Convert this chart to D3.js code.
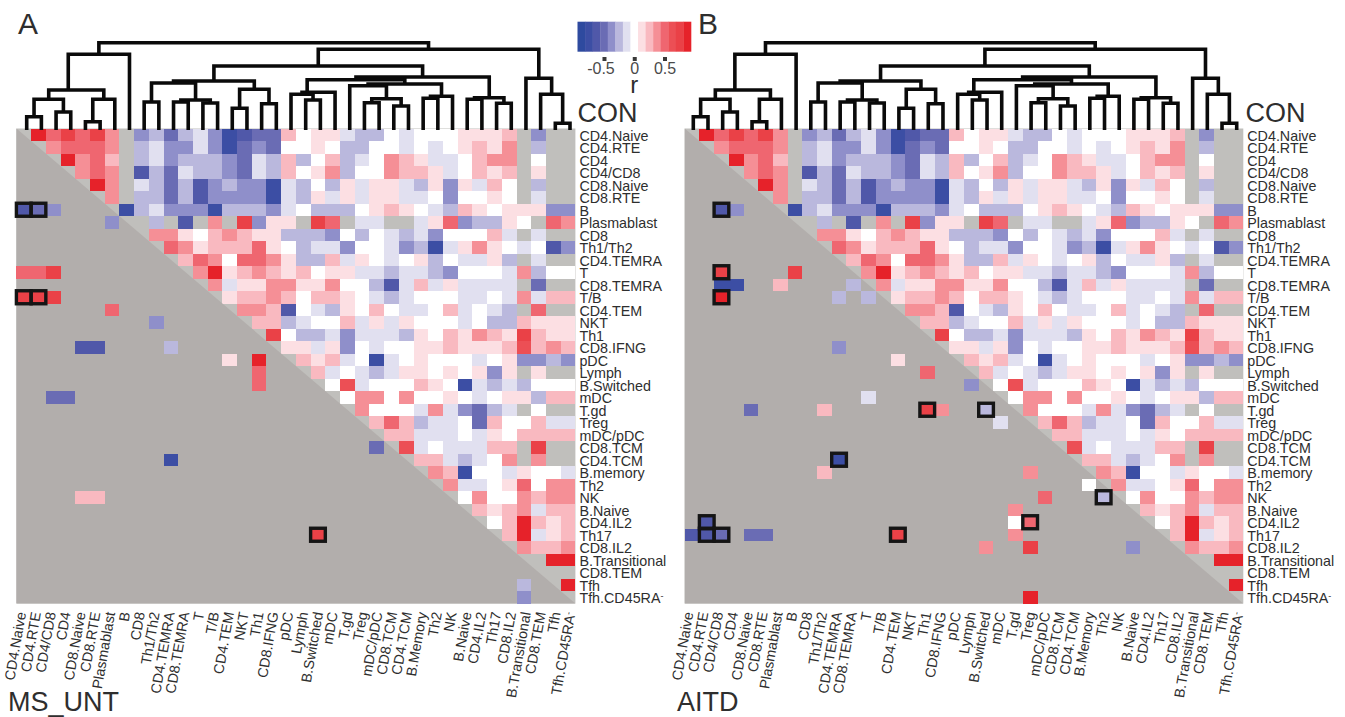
<!DOCTYPE html>
<html>
<head>
<meta charset="utf-8">
<script src="https://cdn.jsdelivr.net/npm/d3@7"></script>
<style>
  body { margin: 0; background: #fff; }
  text { font-family: "Liberation Sans", Arial, sans-serif; fill: #2e2e2e; }
</style>
</head>
<body>
<svg id="chartsvg" width="1345" height="717"></svg>
<script>
var vis = d3.select("#chartsvg");
const N = null;

let rowLabels = ["CD4.Naive", "CD4.RTE", "CD4", "CD4/CD8", "CD8.Naive", "CD8.RTE", "B", "Plasmablast", "CD8", "Th1/Th2",
    "CD4.TEMRA", "T", "CD8.TEMRA", "T/B", "CD4.TEM", "NKT", "Th1", "CD8.IFNG", "pDC", "Lymph", "B.Switched", "mDC", "T.gd",
    "Treg", "mDC/pDC", "CD8.TCM", "CD4.TCM", "B.memory", "Th2", "NK", "B.Naive", "CD4.IL2", "Th17", "CD8.IL2",
    "B.Transitional", "CD8.TEM", "Tfh", "Tfh.CD45RA-"];
let colLabels = ["CD4.Naive", "CD4.RTE", "CD4/CD8", "CD4", "CD8.Naive", "CD8.RTE", "Plasmablast", "B", "CD8", "Th1/Th2",
    "CD4.TEMRA", "CD8.TEMRA", "T", "T/B", "CD4.TEM", "NKT", "Th1", "CD8.IFNG", "pDC", "Lymph", "B.Switched", "mDC", "T.gd",
    "Treg", "mDC/pDC", "CD8.TCM", "CD4.TCM", "B.Memory", "Th2", "NK", "B.Naive", "CD4.IL2", "Th17", "CD8.IL2",
    "B.Transitional", "CD8.TEM", "Tfh", "Tfh.CD45RA-"];

// colour bar runs in 15 flat steps, r = step * rStep
const rStep = 0.125;
let barColors = ["#2e4a9f", "#3c4ea4", "#5058a9", "#6a6cb4", "#8f8fca", "#bab8dd", "#e1e0f0", "#ffffff",
    "#fcdfe3", "#f9b9c0", "#f58f96", "#ef6670", "#ec4f55", "#ea4147", "#e6222a"];
let barTicks = [-0.5, 0, 0.5];

// CON correlations (upper triangle, shared by both panels), each row starts right of the diagonal
let conSteps = [
    [7,4,6,4,6,3,N,-3,-2,-4,-2,-1,-3,-6,-5,-4,-4,2,0,1,1,-1,-2,-2,0,-1,0,0,0,1,1,1,2,N,-3,N,N],
    [3,4,4,4,3,N,-2,-1,-3,-3,-1,-3,-6,-4,-3,-4,0,0,1,0,-2,-2,0,0,-1,0,-1,0,1,2,1,3,N,-2,N,N],
    [7,3,4,2,N,-2,-1,-3,-2,-2,-2,-3,-4,-1,-2,2,-2,0,2,-2,-1,0,3,2,1,-1,-1,0,2,3,3,N,0,N,N],
    [3,4,3,N,-5,-2,-4,-1,-2,-2,-3,-4,-1,-2,2,0,1,3,-2,0,0,3,2,2,1,-1,0,2,1,2,N,1,N,N],
    [7,3,N,-1,-2,-4,-2,-5,-3,-2,-3,-3,-6,-1,-2,0,-2,1,-1,1,1,-1,-2,1,-3,1,-1,2,0,N,-2,N,N],
    [3,N,-2,-2,-4,-2,-5,-3,-3,-3,-3,-6,-1,-2,1,-1,1,-1,1,1,-1,-1,0,-3,0,0,1,0,N,-1,N,N],
    [-6,-2,-1,-3,-3,-3,-6,-2,-2,-2,-3,-1,0,-2,-2,-2,0,1,2,1,0,-1,-2,2,1,0,1,1,1,-3,-3],
    [N,-2,N,-5,N,3,N,6,-3,1,1,N,6,4,N,-1,-1,N,N,-1,1,4,-3,-2,-2,1,0,N,4,3],
    [3,3,1,0,2,3,2,1,1,-2,-2,-2,-3,0,-2,0,-1,-2,-1,-3,0,0,0,2,-1,N,-1,N,N],
    [4,3,1,2,2,2,4,1,0,-2,-1,-1,-3,0,0,-1,-3,-2,-6,-1,1,3,1,0,-1,0,-5,-3],
    [2,4,3,0,4,4,3,1,-2,-2,2,-1,1,0,-1,0,1,-2,0,-1,-1,1,-2,N,-1,N,N],
    [3,7,1,2,3,2,1,2,0,1,1,-1,-1,-2,-1,-1,-2,-3,0,0,0,-1,3,-2,0,0],
    [3,-1,1,1,3,3,1,1,3,0,0,-2,-5,-1,2,-1,1,-1,-1,-1,-1,N,-4,N,N],
    [1,2,2,3,2,0,2,2,1,0,-1,-2,-1,0,0,0,-1,-1,0,-1,3,-1,2,2],
    [3,3,2,-5,0,-1,-2,1,0,2,0,-1,-1,0,2,-1,0,-1,-2,N,4,N,N],
    [2,2,-2,-1,0,0,2,-1,1,-1,1,0,0,0,-1,0,-2,-2,2,1,1,1],
    [6,0,-2,-2,-1,-3,-1,-1,-1,-2,1,0,2,1,3,2,1,6,2,1,1],
    [1,1,-1,1,-3,0,-1,0,0,1,1,2,1,1,1,2,5,2,3,2],
    [2,1,2,-1,0,-6,-1,0,1,0,0,0,-1,0,1,-3,-3,-2,-3],
    [2,-1,0,-1,-2,-1,1,1,0,1,0,1,-3,1,N,1,N,N],
    [0,5,-1,0,0,0,2,1,0,-6,-1,-2,-1,-2,0,0,0],
    [0,3,3,0,3,0,0,1,0,-1,0,1,1,-2,2,2],
    [3,0,0,0,-1,3,-1,-3,-4,-2,-1,N,0,N,N],
    [2,4,2,-2,-1,-1,0,-4,2,0,0,2,-1,-1],
    [2,2,-1,-1,-1,0,-1,1,0,2,2,2,2],
    [5,-1,0,-1,-1,-1,2,2,N,6,N,N],
    [2,2,-1,-2,-1,0,3,N,3,N,N],
    [3,2,-6,0,0,-1,1,0,0,-1],
    [3,-1,-1,0,1,4,0,3,3],
    [0,3,0,0,3,2,3,3],
    [2,1,2,3,-1,2,2],
    [0,2,7,2,1,2],
    [2,7,-1,1,2],
    [3,2,2,3],
    [N,7,7],
    [N,N],
    [7]
];

// disease panels: only the significant cells below the diagonal, [row, col, step, boxed]
let msUntSig = [
    [6,0,-5,1],[6,1,-4,1],[6,2,-3,0],[7,6,-3,0],[11,0,4,0],[11,1,4,0],[11,2,6,0],[13,0,6,1],[13,1,6,1],[13,2,6,0],
    [14,6,4,0],[15,9,-3,0],[17,4,-5,0],[17,5,-5,0],[17,10,-2,0],[18,14,1,0],[18,16,7,0],[19,16,4,0],[20,16,4,0],
    [21,2,-4,0],[21,3,-4,0],[25,24,-4,0],[26,10,-6,0],[29,4,2,0],[29,5,2,0],[32,20,6,1],[36,34,-2,0],[37,34,-3,0]
];
let aitdSig = [
    [6,2,-5,1],[6,3,-3,0],[11,2,6,1],[11,7,6,0],[12,2,-6,0],[12,3,-6,0],[12,6,2,0],[12,11,-2,0],[13,2,7,1],[13,10,-2,0],
    [13,12,-2,0],[17,10,-3,0],[18,14,1,0],[19,16,4,0],[20,19,-3,0],[21,12,-1,0],[22,4,-4,0],[22,9,2,0],[22,16,6,1],
    [22,17,3,0],[22,20,-2,1],[23,21,-1,0],[26,10,-6,1],[27,9,2,0],[27,23,3,0],[28,27,0,0],[29,24,4,0],[29,28,-2,1],
    [30,22,3,0],[31,1,-5,1],[31,22,0,0],[31,23,4,1],[32,0,-5,0],[32,1,-5,1],[32,2,-4,1],[32,4,-4,0],[32,5,-4,0],
    [32,14,6,1],[32,22,3,0],[33,20,3,0],[33,23,6,0],[33,30,-3,0],[37,23,7,0]
];

// dendrogram of the CON columns: leaf = column index, node = [height, left, right, optional stem in leaf units]
let conTree = [87.3,
    [75.7,
        [40,
            [30.7, [13.3, 0, 1], [18, 2, 3]],
            [30.7, [8.3, 4, 5], 6],
            2.83],
        7],
    [80.7,
        [64,
            [49,
                [47, [28, 8, 9], [30, [28, 10, 11], [27, 12, 13]]],
                [40.7, [21.7, 14, 15], [26.3, 16, 17]]],
            [53,
                [50.3,
                    [37.7, [35.7, 18, [30, 19, 20]], 21, 19.1],
                    [46,
                        [44.3, 22, [31.3, [27.3, 23, 24], [24, 25, 26]]],
                        [33.7, [31.7, 27, 28], 29]]],
                [32.3, [30.7, 30, 31], [26.7, 32, 33]]]],
        [51.7, 34, [35.7, 35, [6.7, 36, 37]]]]];

const heatY = 128.5, heatH = 475;
const grayNA = "#c0bfbc", grayLow = "#b2aeac";
const labelSize = 14.3;

var rMax = 7.5 * rStep;
var colorScale = d3.scaleQuantize().domain([-rMax, rMax]).range(barColors);
var stepColor = s => colorScale(s * rStep);

function translate(x, y) { return "translate(" + x + "," + y + ")"; }

function drawDendrogram(leftX, rightX) {
    var leafX = d3.scaleLinear().domain([0, colLabels.length - 1]).range([leftX, rightX]);
    var heightY = d3.scaleLinear().domain([0, 90]).range([130, 40]);
    var root = d3.hierarchy(conTree, d => Array.isArray(d) ? d.slice(1, 3) : null);
    root.eachAfter(n => {
        if (!n.children) {
            n.px = leafX(n.data);
            n.py = heightY(0);
        } else {
            n.py = heightY(n.data[0]);
            n.px = n.data[3] !== undefined ? leafX(n.data[3]) : (n.children[0].px + n.children[1].px) / 2;
        }
    });
    vis.append("g").selectAll("path")
        .data(root.descendants().filter(n => n.children))
        .enter().append("path")
        .attr("fill", "none")
        .attr("stroke", "#0a0a0a")
        .attr("stroke-width", 3.6)
        .attr("d", n => {
            var a = n.children[0], b = n.children[1];
            return "M" + a.px + "," + a.py + "V" + n.py + "H" + b.px + "V" + b.py;
        });
}

function drawPanel(p) {
    var x = d3.scaleBand().domain(d3.range(colLabels.length)).range([p.heatX, p.heatX + p.heatW]);
    var y = d3.scaleBand().domain(d3.range(rowLabels.length)).range([heatY, heatY + heatH]);

    var upperCells = [];
    conSteps.forEach((steps, r) => {
        steps.forEach((s, i) => {
            if (s !== N) upperCells.push([r, r + 1 + i, s]);
        });
    });

    var g = vis.append("g");
    g.append("rect")
        .attr("x", p.heatX).attr("y", heatY)
        .attr("width", p.heatW).attr("height", heatH)
        .attr("fill", grayNA);

    g.selectAll(".upper").data(upperCells)
        .enter().append("rect").attr("class", "upper")
        .attr("x", d => x(d[1]))
        .attr("y", d => y(d[0]))
        .attr("width", x.bandwidth())
        .attr("height", y.bandwidth())
        .attr("fill", d => stepColor(d[2]))
        .attr("shape-rendering", "crispEdges");

    g.append("path")
        .attr("d", d3.line()([[p.heatX, heatY], [p.heatX + p.heatW, heatY + heatH], [p.heatX, heatY + heatH]]) + "Z")
        .attr("fill", grayLow);

    g.selectAll(".lower").data(p.sig)
        .enter().append("rect").attr("class", "lower")
        .attr("x", d => x(d[1]))
        .attr("y", d => y(d[0]))
        .attr("width", x.bandwidth())
        .attr("height", y.bandwidth())
        .attr("fill", d => stepColor(d[2]))
        .attr("shape-rendering", "crispEdges");

    g.selectAll(".box").data(p.sig.filter(d => d[3]))
        .enter().append("rect").attr("class", "box")
        .attr("x", d => x(d[1]))
        .attr("y", d => y(d[0]) - 0.25)
        .attr("width", x.bandwidth())
        .attr("height", y.bandwidth() + 0.5)
        .attr("fill", "none")
        .attr("stroke", "#151515")
        .attr("stroke-width", 3.4);

    // row labels on the right
    var rowAxis = d3.axisRight(d3.scaleBand().domain(rowLabels).range([heatY, heatY + heatH])).tickSize(0).tickPadding(0);
    var rowG = vis.append("g").attr("transform", translate(p.heatX + p.heatW + 4, 1.2)).call(rowAxis);
    rowG.select(".domain").remove();
    rowG.selectAll("text").attr("font-size", labelSize).attr("font-family", null);
    rowG.selectAll(".tick text").filter(d => d == "Tfh.CD45RA-").each(minusMark);

    // rotated column labels, they run a bit wider than the cells
    var labelX = d3.scalePoint().domain(d3.range(colLabels.length)).range(p.labelRange);
    var colAxis = d3.axisBottom(labelX).tickSize(0).tickFormat(i => colLabels[i]);
    var colG = vis.append("g").attr("transform", translate(0, 612)).call(colAxis);
    colG.select(".domain").remove();
    colG.selectAll("text")
        .attr("font-size", labelSize)
        .attr("font-family", null)
        .attr("text-anchor", "end")
        .attr("x", 0).attr("y", 0).attr("dy", "0.35em")
        .attr("transform", "rotate(-80)");
    colG.selectAll(".tick text").filter(i => colLabels[i] == "Tfh.CD45RA-").each(minusMark);

    vis.append("text").attr("x", p.letterX).attr("y", 34.3).attr("font-size", 30).text(p.letter);
    vis.append("text").attr("x", p.heatX + p.heatW + 2.2).attr("y", 121.5).attr("font-size", 27).text("CON");
    vis.append("text").attr("x", p.nameX).attr("y", 711).attr("font-size", 27).text(p.name);

    drawDendrogram(p.leafRange[0], p.leafRange[1]);
}

// small raised minus on the last label
function minusMark() {
    var t = d3.select(this);
    t.text("Tfh.CD45RA");
    t.append("tspan").attr("dy", -4).attr("font-size", 9).text("-");
}

function drawColorBar() {
    var barX = d3.scaleLinear().domain([-rMax, rMax]).range([577.5, 691]);
    var bins = barColors.map((c, i) => ({ c: c, from: -rMax + i * rStep, to: -rMax + (i + 1) * rStep }));
    var g = vis.append("g");
    g.selectAll("rect").data(bins)
        .enter().append("rect")
        .attr("x", d => barX(d.from))
        .attr("y", 21.7)
        .attr("width", d => barX(d.to) - barX(d.from) + 0.3)
        .attr("height", 30)
        .attr("fill", d => d.c);

    var axis = d3.axisBottom(barX).tickValues(barTicks).tickSize(4).tickPadding(2)
        .tickFormat(d => d == 0 ? "0" : d3.format(".1f")(d).replace("\u2212", "-"));
    var axisG = vis.append("g").attr("transform", translate(0, 57)).call(axis);
    axisG.select(".domain").remove();
    axisG.selectAll("line").attr("stroke", "#3a3a3a").attr("stroke-width", 4);
    axisG.selectAll("text").attr("font-size", 16).attr("font-family", null).style("fill", "#4a4a4a");
    axisG.selectAll(".tick text").filter(d => d < 0).attr("dx", -3.5);

    vis.append("text").attr("x", barX(0)).attr("y", 93).attr("text-anchor", "middle").attr("font-size", 24).text("r");
}

drawPanel({ heatX: 16.4, heatW: 559, sig: msUntSig, letter: "A", letterX: 18, name: "MS_UNT", nameX: 8,
    leafRange: [26.7, 570], labelRange: [20.7, 570] });
drawPanel({ heatX: 684.7, heatW: 558.6, sig: aitdSig, letter: "B", letterX: 698, name: "AITD", nameX: 677,
    leafRange: [693.3, 1236.7], labelRange: [688, 1238] });
drawColorBar();
</script>
</body>
</html>
